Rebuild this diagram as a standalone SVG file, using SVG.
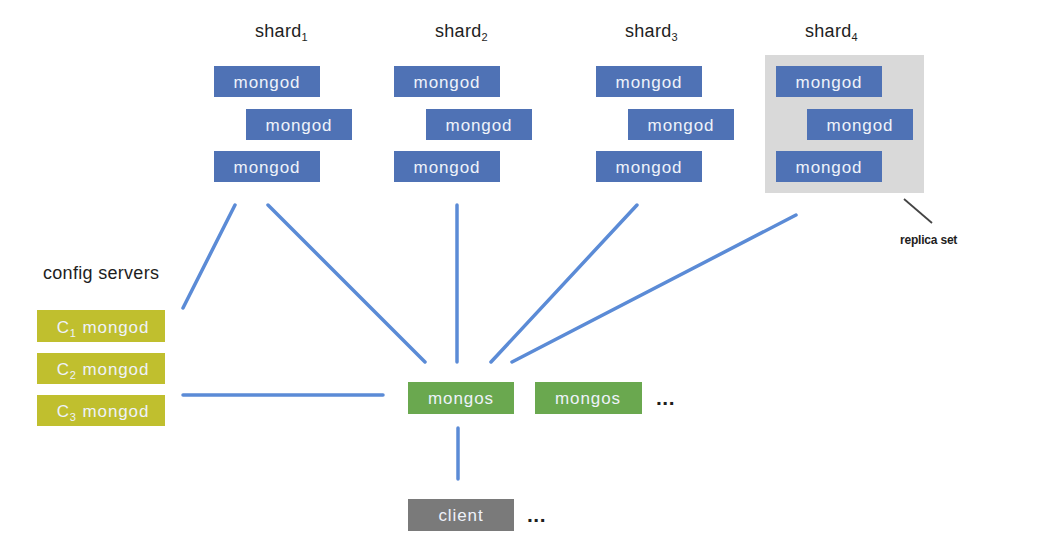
<svg xmlns="http://www.w3.org/2000/svg" width="1037" height="558" viewBox="0 0 1037 558">
<style>
.bg{fill:#ffffff}
.md{fill:#4f72b5}
.cfg{fill:#c0bf2e}
.ms{fill:#6aa84f}
.cl{fill:#7a7a7a}
.panel{fill:#d9d9d9}
.bt{font-family:"Liberation Sans",Arial,sans-serif;font-size:17px;fill:#eef2fa;text-anchor:middle;letter-spacing:0.9px}
.lbl{font-family:"Liberation Sans",Arial,sans-serif;font-size:18px;fill:#1e1e1e;letter-spacing:0.3px}
.sub{font-size:11px}
.dots{font-family:"Liberation Sans",Arial,sans-serif;font-size:21px;font-weight:bold;fill:#1e1e1e;letter-spacing:0.5px}
.conn line{stroke:#5b8bd6;stroke-width:3.5;stroke-linecap:round}
</style>
<rect class="bg" x="0" y="0" width="1037" height="558"/>

<g id="connectors" class="conn">
<line x1="235" y1="205" x2="183" y2="308"/>
<line x1="268" y1="205" x2="425" y2="362"/>
<line x1="457" y1="205" x2="457" y2="362"/>
<line x1="637" y1="205" x2="491" y2="362"/>
<line x1="796" y1="215" x2="512" y2="362"/>
<line x1="183" y1="395" x2="383" y2="395"/>
<line x1="458" y1="428" x2="458" y2="479"/>
</g>

<g id="shard1">
<text class="lbl" x="255" y="37">shard<tspan class="sub" dy="4">1</tspan></text>
<rect class="md" x="214" y="66" width="106" height="31"/><text class="bt" x="267" y="88">mongod</text>
<rect class="md" x="246" y="109" width="106" height="31"/><text class="bt" x="299" y="131">mongod</text>
<rect class="md" x="214" y="151" width="106" height="31"/><text class="bt" x="267" y="173">mongod</text>
</g>

<g id="shard2">
<text class="lbl" x="435" y="37">shard<tspan class="sub" dy="4">2</tspan></text>
<rect class="md" x="394" y="66" width="106" height="31"/><text class="bt" x="447" y="88">mongod</text>
<rect class="md" x="426" y="109" width="106" height="31"/><text class="bt" x="479" y="131">mongod</text>
<rect class="md" x="394" y="151" width="106" height="31"/><text class="bt" x="447" y="173">mongod</text>
</g>

<g id="shard3">
<text class="lbl" x="625" y="37">shard<tspan class="sub" dy="4">3</tspan></text>
<rect class="md" x="596" y="66" width="106" height="31"/><text class="bt" x="649" y="88">mongod</text>
<rect class="md" x="628" y="109" width="106" height="31"/><text class="bt" x="681" y="131">mongod</text>
<rect class="md" x="596" y="151" width="106" height="31"/><text class="bt" x="649" y="173">mongod</text>
</g>

<g id="shard4">
<text class="lbl" x="805" y="37">shard<tspan class="sub" dy="4">4</tspan></text>
<rect class="panel" x="765" y="55" width="159" height="138"/>
<rect class="md" x="776" y="66" width="106" height="31"/><text class="bt" x="829" y="88">mongod</text>
<rect class="md" x="807" y="109" width="106" height="31"/><text class="bt" x="860" y="131">mongod</text>
<rect class="md" x="776" y="151" width="106" height="31"/><text class="bt" x="829" y="173">mongod</text>
</g>

<g id="replica-set-label">
<line x1="904" y1="199" x2="932" y2="223" stroke="#444444" stroke-width="1.8"/>
<text x="900" y="244" font-family="Liberation Sans,Arial,sans-serif" font-size="12px" font-weight="bold" fill="#1e1e1e" letter-spacing="-0.2">replica set</text>
</g>

<g id="config-servers">
<text class="lbl" x="43" y="279">config servers</text>
<rect class="cfg" x="37" y="310" width="128" height="32"/><text class="bt" x="103" y="333">C<tspan class="sub" dy="4">1</tspan><tspan dy="-4"> mongod</tspan></text>
<rect class="cfg" x="37" y="353" width="128" height="31"/><text class="bt" x="103" y="375">C<tspan class="sub" dy="4">2</tspan><tspan dy="-4"> mongod</tspan></text>
<rect class="cfg" x="37" y="395" width="128" height="31"/><text class="bt" x="103" y="417">C<tspan class="sub" dy="4">3</tspan><tspan dy="-4"> mongod</tspan></text>
</g>

<g id="mongos1">
<rect class="ms" x="408" y="382" width="106" height="32"/><text class="bt" x="461" y="404">mongos</text>
</g>
<g id="mongos2">
<rect class="ms" x="535" y="382" width="107" height="32"/><text class="bt" x="588" y="404">mongos</text>
<text class="dots" x="656" y="405">...</text>
</g>

<g id="client">
<rect class="cl" x="408" y="499" width="106" height="32"/><text class="bt" x="461" y="521">client</text>
<text class="dots" x="527" y="522">...</text>
</g>
</svg>
